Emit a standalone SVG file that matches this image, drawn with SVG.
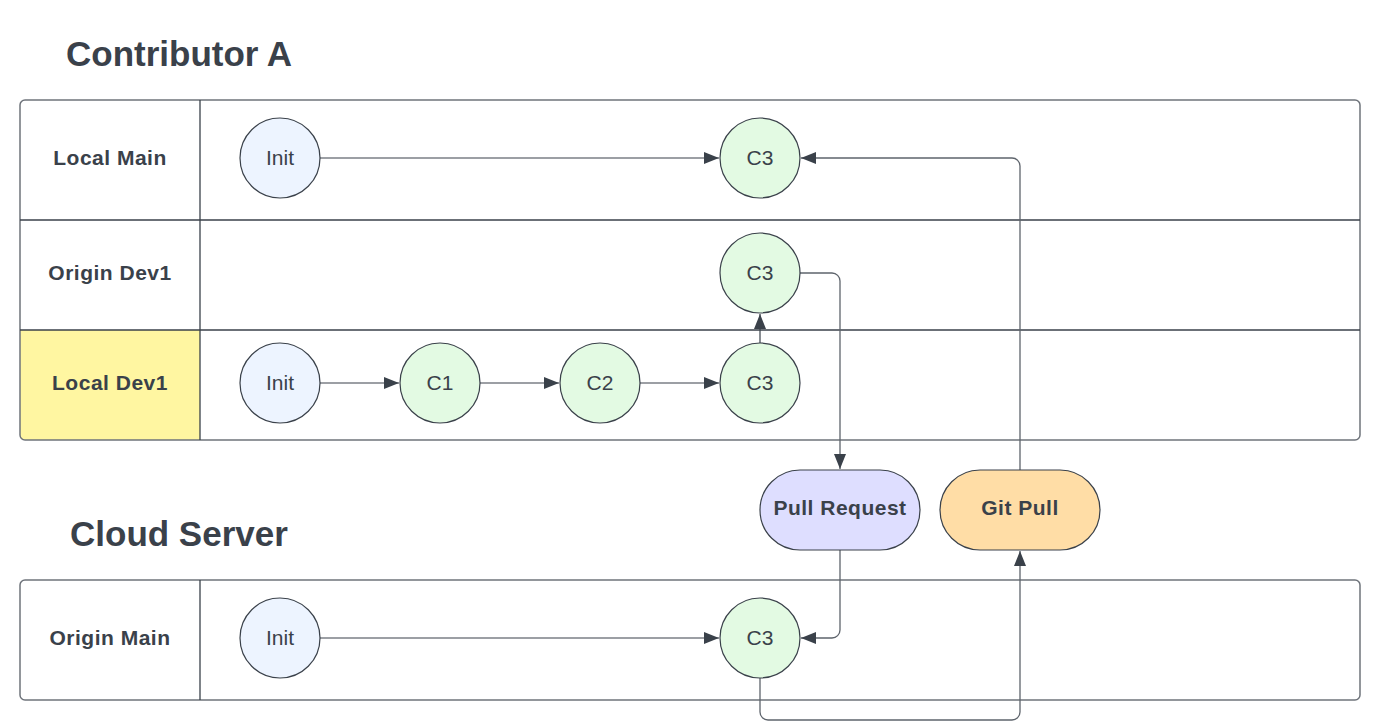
<svg xmlns="http://www.w3.org/2000/svg" width="1380" height="726" viewBox="0 0 1380 726">
<style>
.title{font-family:"Liberation Sans",Arial,sans-serif;font-weight:bold;font-size:35px;fill:#3a414a}
.lane{font-family:"Liberation Sans",Arial,sans-serif;font-weight:bold;font-size:21px;letter-spacing:0.5px;fill:#3a414a;text-anchor:middle;dominant-baseline:central}
.ntxt{font-family:"Liberation Sans",Arial,sans-serif;font-size:21px;fill:#3a414a;text-anchor:middle;dominant-baseline:central}
.btxt{font-family:"Liberation Sans",Arial,sans-serif;font-weight:bold;font-size:21px;letter-spacing:0.5px;fill:#3a414a;text-anchor:middle;dominant-baseline:central}
.box{fill:none;stroke:#6f747b;stroke-width:1.5}
.div{stroke:#3a414a;stroke-width:1.3}
.init{fill:#edf4ff;stroke:#3a414a;stroke-width:1.2}
.commit{fill:#e3fae3;stroke:#3a414a;stroke-width:1.2}
.conn{fill:none;stroke:#3a414a;stroke-width:1.2}
.conn2{fill:none;stroke:#5e646c;stroke-width:1.3}
</style>
<defs>
<marker id="arr" markerWidth="16" markerHeight="12" refX="15" refY="6" orient="auto" markerUnits="userSpaceOnUse">
<path d="M0,0 L15,6 L0,12 Z" fill="#3a414a"/>
</marker>
</defs>
<rect width="1380" height="726" fill="#ffffff"/>
<text class="title" x="66" y="66">Contributor A</text>
<text class="title" x="70" y="546">Cloud Server</text>

<g id="contributor-pool">
<path d="M20,330 H200 V440 H24 A4,4 0 0 1 20,436 Z" fill="#fff6a1"/>
<rect class="box" x="20" y="100" width="1340" height="340" rx="5"/>
<line class="div" x1="200" y1="100" x2="200" y2="440"/>
<line class="div" x1="20" y1="220" x2="1360" y2="220"/>
<line class="div" x1="20" y1="330" x2="1360" y2="330"/>
<text class="lane" x="110" y="157">Local Main</text>
<text class="lane" x="110" y="272">Origin Dev1</text>
<text class="lane" x="110" y="382">Local Dev1</text>
</g>
<g id="cloud-pool">
<rect class="box" x="20" y="580" width="1340" height="120" rx="5"/>
<line class="div" x1="200" y1="580" x2="200" y2="700"/>
<text class="lane" x="110" y="637">Origin Main</text>
</g>

<g id="connectors">
<line class="conn" x1="320" y1="158" x2="719" y2="158" marker-end="url(#arr)"/>
<path class="conn2" d="M1020,470 V166 A8,8 0 0 0 1012,158 H801" marker-end="url(#arr)"/>
<path class="conn2" d="M800,273 H832 A8,8 0 0 1 840,281 V469" marker-end="url(#arr)"/>
<line class="conn" x1="760" y1="343" x2="760" y2="314" marker-end="url(#arr)"/>
<line class="conn" x1="320" y1="383" x2="399" y2="383" marker-end="url(#arr)"/>
<line class="conn" x1="480" y1="383" x2="559" y2="383" marker-end="url(#arr)"/>
<line class="conn" x1="640" y1="383" x2="719" y2="383" marker-end="url(#arr)"/>
<path class="conn2" d="M840,550 V630 A8,8 0 0 1 832,638 H801" marker-end="url(#arr)"/>
<line class="conn" x1="320" y1="638" x2="719" y2="638" marker-end="url(#arr)"/>
<path class="conn2" d="M760,678 V712 A8,8 0 0 0 768,720 H1012 A8,8 0 0 0 1020,712 V551" marker-end="url(#arr)"/>
</g>

<g id="lm-init"><circle class="init" cx="280" cy="158" r="40"/><text class="ntxt" x="280" y="157">Init</text></g>
<g id="lm-c3"><circle class="commit" cx="760" cy="158" r="40"/><text class="ntxt" x="760" y="157">C3</text></g>
<g id="od-c3"><circle class="commit" cx="760" cy="273" r="40"/><text class="ntxt" x="760" y="272">C3</text></g>
<g id="ld-init"><circle class="init" cx="280" cy="383" r="40"/><text class="ntxt" x="280" y="382">Init</text></g>
<g id="ld-c1"><circle class="commit" cx="440" cy="383" r="40"/><text class="ntxt" x="440" y="382">C1</text></g>
<g id="ld-c2"><circle class="commit" cx="600" cy="383" r="40"/><text class="ntxt" x="600" y="382">C2</text></g>
<g id="ld-c3"><circle class="commit" cx="760" cy="383" r="40"/><text class="ntxt" x="760" y="382">C3</text></g>
<g id="om-init"><circle class="init" cx="280" cy="638" r="40"/><text class="ntxt" x="280" y="637">Init</text></g>
<g id="om-c3"><circle class="commit" cx="760" cy="638" r="40"/><text class="ntxt" x="760" y="637">C3</text></g>
<g id="pull-request"><rect x="760" y="470" width="160" height="80" rx="40" fill="#dedeff" stroke="#3a414a" stroke-width="1.2"/><text class="btxt" x="840" y="507">Pull Request</text></g>
<g id="git-pull"><rect x="940" y="470" width="160" height="80" rx="40" fill="#ffdda6" stroke="#3a414a" stroke-width="1.2"/><text class="btxt" x="1020" y="507">Git Pull</text></g>
</svg>
